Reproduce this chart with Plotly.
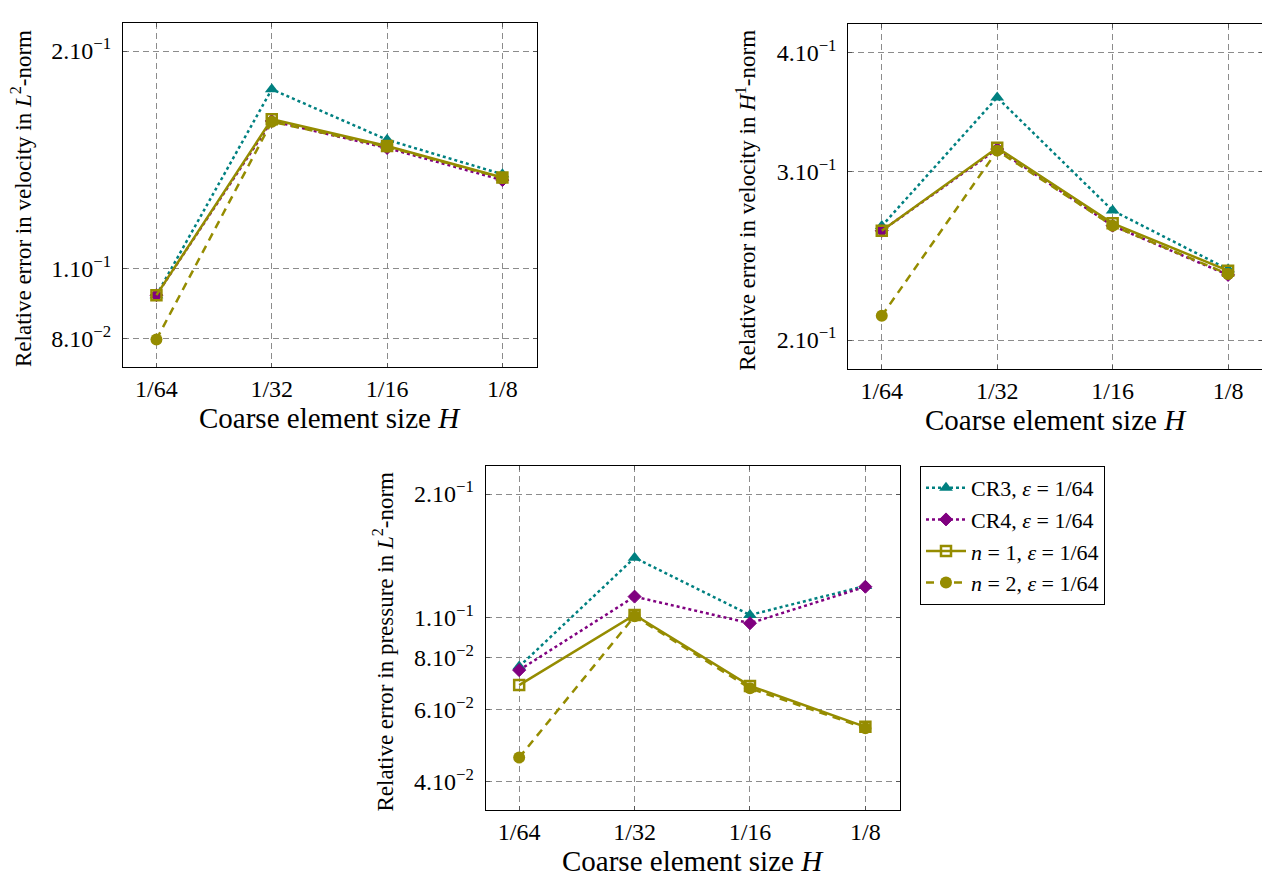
import plotly.graph_objects as go
import math

W, H = 1270, 878
OFF = 8  # page body margin in the browser

H_labels = ["1/64", "1/32", "1/16", "1/8"]

# Panel 1: velocity L2
vel_l2_cr3 = [0.0918, 0.177, 0.1507, 0.135]
vel_l2_cr4 = [0.0918, 0.160, 0.1468, 0.1325]
vel_l2_n1 = [0.0918, 0.1609, 0.1477, 0.1336]
vel_l2_n2 = [0.0797, 0.1596, 0.1474, 0.1334]

# Panel 2: velocity H1
vel_h1_cr3 = [0.2633, 0.359, 0.2733, 0.2372]
vel_h1_cr4 = [0.2603, 0.317, 0.2635, 0.234]
vel_h1_n1 = [0.2603, 0.318, 0.265, 0.2364]
vel_h1_n2 = [0.212, 0.3158, 0.2635, 0.2345]

# Panel 3: pressure L2
p_l2_cr3 = [0.0762, 0.1401, 0.1017, 0.1196]
p_l2_cr4 = [0.0747, 0.1127, 0.0971, 0.1191]
p_l2_n1 = [0.0687, 0.1017, 0.0684, 0.0544]
p_l2_n2 = [0.0458, 0.1010, 0.0675, 0.0540]

series_names = ["CR3, <i>ε</i> = 1/64", "CR4, <i>ε</i> = 1/64",
                "<i>n</i> = 1, <i>ε</i> = 1/64", "<i>n</i> = 2, <i>ε</i> = 1/64"]

yticks1 = [0.08, 0.1, 0.2]
yticks1_text = ["8.10<sup>−2</sup>", "1.10<sup>−1</sup>", "2.10<sup>−1</sup>"]
yticks2 = [0.2, 0.3, 0.4]
yticks2_text = ["2.10<sup>−1</sup>", "3.10<sup>−1</sup>", "4.10<sup>−1</sup>"]
yticks3 = [0.04, 0.06, 0.08, 0.1, 0.2]
yticks3_text = ["4.10<sup>−2</sup>", "6.10<sup>−2</sup>", "8.10<sup>−2</sup>",
                "1.10<sup>−1</sup>", "2.10<sup>−1</sup>"]

TEAL = "#008080"
PURPLE = "#800080"
OLIVE = "#958c00"
FONT = "Liberation Serif"

styles = [
    dict(line=dict(color=TEAL, width=2.5, dash="dot"),
         marker=dict(symbol="triangle-up", size=12, color=TEAL)),
    dict(line=dict(color=PURPLE, width=2.5, dash="dot"),
         marker=dict(symbol="diamond", size=10, color=PURPLE,
                     line=dict(color=PURPLE, width=1))),
    dict(line=dict(color=OLIVE, width=2.5, dash="solid"),
         marker=dict(symbol="square-open", size=10, color=OLIVE,
                     line=dict(color=OLIVE, width=2.5))),
    dict(line=dict(color=OLIVE, width=2.5, dash="8px,6px"),
         marker=dict(symbol="circle", size=12, color=OLIVE)),
]

fig = go.Figure()

panels = [
    (vel_l2_cr3, vel_l2_cr4, vel_l2_n1, vel_l2_n2),
    (vel_h1_cr3, vel_h1_cr4, vel_h1_n1, vel_h1_n2),
    (p_l2_cr3, p_l2_cr4, p_l2_n1, p_l2_n2),
]
for pi, data in enumerate(panels):
    xa = "x" if pi == 0 else f"x{pi+1}"
    ya = "y" if pi == 0 else f"y{pi+1}"
    for si, vals in enumerate(data):
        fig.add_trace(go.Scatter(
            x=H_labels, y=vals, mode="lines+markers", name=series_names[si],
            xaxis=xa, yaxis=ya, showlegend=(pi == 2), cliponaxis=False,
            line=styles[si]["line"], marker=styles[si]["marker"]))

def PX(px):
    return (px - OFF) / W

def PY(py):
    return 1 - (py - OFF) / H

boxes = [
    (123, 537, 23, 367, [0.073, 0.2187], yticks1, yticks1_text,
     "Relative error in velocity in <i>L</i><sup>2</sup>-norm"),
    (848.3, 1262.7, 24, 369, [0.1865, 0.4286], yticks2, yticks2_text,
     "Relative error in velocity in <i>H</i><sup>1</sup>-norm"),
    (485.7, 900, 465.7, 810, [0.03416, 0.2344], yticks3, yticks3_text,
     "Relative error in pressure in <i>L</i><sup>2</sup>-norm"),
]

axis_common = dict(showline=True, linecolor="black", linewidth=1, mirror="ticks",
                   ticks="inside", ticklen=4, tickcolor="#555555",
                   showgrid=True, gridcolor="#8c8c8c", gridwidth=1, griddash="6px,4px",
                   zeroline=False, tickfont=dict(family=FONT, size=24, color="black"))

ann = []
for i, (l, r, t, b, yr, tv, tt, ytitle) in enumerate(boxes):
    sx = "xaxis" if i == 0 else f"xaxis{i+1}"
    sy = "yaxis" if i == 0 else f"yaxis{i+1}"
    fig.layout[sx] = dict(domain=[PX(l), PX(r)], type="category", range=[-0.29, 3.3],
                          anchor="y" if i == 0 else f"y{i+1}",
                          ticklabelstandoff=0, **axis_common)
    fig.layout[sy] = dict(domain=[PY(b), PY(t)], type="log",
                          range=[math.log10(yr[0]), math.log10(yr[1])],
                          anchor="x" if i == 0 else f"x{i+1}",
                          tickvals=tv, ticktext=tt, ticklabelstandoff=6, **axis_common)
    # x title
    ann.append(dict(text="Coarse element size <i>H</i>", xref="paper", yref="paper",
                    x=PX((l + r) / 2), y=PY(b + 51), xanchor="center", yanchor="middle",
                    showarrow=False, font=dict(family=FONT, size=29, color="black")))
    ann.append(dict(text=ytitle, xref="paper", yref="paper",
                    x=PX(l - 102), y=PY((t + b) / 2 + 4), xanchor="center", yanchor="middle",
                    textangle=-90, showarrow=False,
                    font=dict(family=FONT, size=23, color="black")))

fig.update_layout(
    width=W, height=H, margin=dict(l=0, r=0, t=0, b=0),
    paper_bgcolor="white", plot_bgcolor="white",
    annotations=ann,
    legend=dict(x=PX(920), y=PY(466), xanchor="left", yanchor="top",
                bordercolor="black", borderwidth=1, bgcolor="white",
                font=dict(family=FONT, size=22, color="black"),
                itemwidth=40, tracegroupgap=0),
)

fig.write_html("out.html")
